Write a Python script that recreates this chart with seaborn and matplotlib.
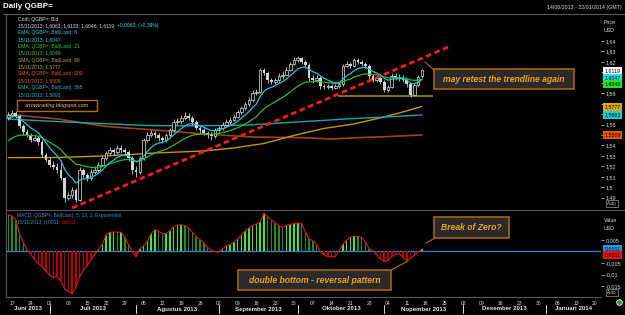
import numpy as np
import pandas as pd
import matplotlib
matplotlib.use("Agg")
import matplotlib.pyplot as plt
import matplotlib.transforms as mtrans
from matplotlib.patches import Rectangle
from matplotlib.lines import Line2D
import seaborn as sns

sns.set_theme(style="dark")
plt.rcParams['font.family'] = ['Liberation Sans', 'DejaVu Sans']

W, H = 625, 315

# Daily QGBP= bid candles, 14/06/2013 .. 15/11/2013 (one value per trading day)
closes = [1.5692, 1.5711, 1.5682, 1.5587, 1.5529, 1.5500, 1.5453, 1.5472, 1.5433, 1.5309,
          1.5261, 1.5213, 1.5194, 1.5166, 1.5089, 1.4898, 1.4926, 1.4974, 1.4878, 1.5166,
          1.5118, 1.5089, 1.5146, 1.5166, 1.5213, 1.5280, 1.5328, 1.5357, 1.5338, 1.5376,
          1.5357, 1.5338, 1.5280, 1.5166, 1.5146, 1.5280, 1.5453, 1.5500, 1.5520, 1.5500,
          1.5472, 1.5453, 1.5500, 1.5548, 1.5625, 1.5634, 1.5663, 1.5682, 1.5663, 1.5625,
          1.5567, 1.5548, 1.5520, 1.5500, 1.5491, 1.5548, 1.5567, 1.5596, 1.5625, 1.5644,
          1.5673, 1.5721, 1.5759, 1.5797, 1.5835, 1.5902, 1.5912, 1.6122, 1.6094, 1.6027,
          1.6008, 1.6027, 1.6065, 1.6075, 1.6122, 1.6180, 1.6218, 1.6237, 1.6199, 1.6170,
          1.6046, 1.6027, 1.6046, 1.5969, 1.5960, 1.5969, 1.5950, 1.5969, 1.5989, 1.6161,
          1.6180, 1.6161, 1.6218, 1.6199, 1.6180, 1.6161, 1.6065, 1.6027, 1.6046, 1.6008,
          1.5931, 1.5960, 1.6065, 1.6056, 1.6046, 1.6027, 1.5989, 1.5883, 1.5979, 1.6056,
          1.6119]
highs = [1.5725, 1.5740, 1.5730, 1.5700, 1.5610, 1.5560, 1.5520, 1.5500, 1.5490, 1.5450,
         1.5330, 1.5290, 1.5250, 1.5230, 1.5260, 1.5100, 1.4950, 1.5000, 1.4990, 1.5190,
         1.5180, 1.5140, 1.5170, 1.5200, 1.5240, 1.5300, 1.5350, 1.5390, 1.5380, 1.5400,
         1.5400, 1.5380, 1.5360, 1.5300, 1.5200, 1.5300, 1.5470, 1.5530, 1.5550, 1.5540,
         1.5520, 1.5490, 1.5520, 1.5570, 1.5650, 1.5660, 1.5690, 1.5720, 1.5710, 1.5680,
         1.5640, 1.5590, 1.5570, 1.5540, 1.5530, 1.5570, 1.5590, 1.5620, 1.5650, 1.5670,
         1.5700, 1.5740, 1.5780, 1.5820, 1.5860, 1.5930, 1.5940, 1.6140, 1.6140, 1.6110,
         1.6050, 1.6050, 1.6090, 1.6110, 1.6150, 1.6200, 1.6250, 1.6260, 1.6250, 1.6220,
         1.6190, 1.6070, 1.6070, 1.6060, 1.5990, 1.5990, 1.5990, 1.5990, 1.6010, 1.6180,
         1.6210, 1.6200, 1.6240, 1.6240, 1.6220, 1.6200, 1.6180, 1.6080, 1.6070, 1.6070,
         1.6030, 1.5980, 1.6090, 1.6090, 1.6080, 1.6070, 1.6040, 1.6000, 1.6000, 1.6070,
         1.6133]
lows = [1.5640, 1.5670, 1.5660, 1.5570, 1.5500, 1.5480, 1.5430, 1.5440, 1.5400, 1.5290,
        1.5240, 1.5190, 1.5170, 1.5140, 1.5070, 1.4860, 1.4880, 1.4900, 1.4855, 1.4870,
        1.5090, 1.5060, 1.5070, 1.5130, 1.5150, 1.5200, 1.5260, 1.5310, 1.5310, 1.5320,
        1.5330, 1.5300, 1.5250, 1.5130, 1.5100, 1.5130, 1.5260, 1.5430, 1.5480, 1.5470,
        1.5440, 1.5420, 1.5430, 1.5480, 1.5530, 1.5600, 1.5610, 1.5640, 1.5640, 1.5600,
        1.5550, 1.5520, 1.5500, 1.5470, 1.5450, 1.5470, 1.5530, 1.5550, 1.5580, 1.5610,
        1.5630, 1.5660, 1.5700, 1.5740, 1.5780, 1.5820, 1.5880, 1.5900, 1.6070, 1.6000,
        1.5990, 1.5990, 1.6010, 1.6040, 1.6060, 1.6110, 1.6170, 1.6200, 1.6180, 1.6140,
        1.6020, 1.6000, 1.6010, 1.5940, 1.5940, 1.5940, 1.5930, 1.5940, 1.5950, 1.5970,
        1.6150, 1.6140, 1.6150, 1.6180, 1.6160, 1.6140, 1.6040, 1.6010, 1.6010, 1.5990,
        1.5910, 1.5910, 1.5950, 1.6030, 1.6020, 1.6010, 1.5960, 1.5860, 1.5870, 1.5960,
        1.6046]
first_open = 1.5660
last_open = 1.6063

# moving averages
ema8_seed = 1.5660
ema21_seed = 1.5420
sma89_idx = [0, 13, 26, 39, 52, 60, 68, 76, 84, 92, 100, 105, 110]
sma89_val = [1.5283, 1.5285, 1.5300, 1.5328, 1.5347, 1.5376, 1.5419, 1.5496, 1.5563, 1.5606, 1.5673, 1.5721, 1.5773]
sma200_idx = [0, 13, 26, 39, 52, 65, 78, 86, 93, 100, 110]
sma200_val = [1.5697, 1.5654, 1.5582, 1.5548, 1.5510, 1.5481, 1.5475, 1.5462, 1.5475, 1.5484, 1.5500]
ema365_idx = [0, 10, 24, 37, 50, 64, 77, 90, 98, 110]
ema365_val = [1.5653, 1.5634, 1.5611, 1.5591, 1.5587, 1.5596, 1.5625, 1.5654, 1.5668, 1.5692]

# MACD (5, 13, 1) histogram
macd_hist = [0.0160, 0.0155, 0.0138, 0.0075, 0.0042, 0.0007, -0.0013, -0.0035, -0.0053, -0.0066,
             -0.0085, -0.0102, -0.0114, -0.0107, -0.0130, -0.0163, -0.0175, -0.0183, -0.0155, -0.0110,
             -0.0080, -0.0062, -0.0035, -0.0012, 0.0008, 0.0032, 0.0070, 0.0084, 0.0085, 0.0084,
             0.0084, 0.0062, 0.0030, -0.0002, -0.0022, 0.0012, 0.0025, 0.0045, 0.0078, 0.0095,
             0.0088, 0.0078, 0.0078, 0.0090, 0.0108, 0.0115, 0.0116, 0.0113, 0.0102, 0.0083,
             0.0065, 0.0052, 0.0038, 0.0018, 0.0005, 0.0000, -0.0004, 0.0012, 0.0025, 0.0030,
             0.0040, 0.0055, 0.0072, 0.0090, 0.0102, 0.0113, 0.0120, 0.0128, 0.0166, 0.0152,
             0.0137, 0.0125, 0.0112, 0.0105, 0.0114, 0.0118, 0.0122, 0.0124, 0.0122, 0.0086,
             0.0055, 0.0046, 0.0032, 0.0000, -0.0016, -0.0023, -0.0023, -0.0022, 0.0003, 0.0032,
             0.0050, 0.0063, 0.0067, 0.0066, 0.0062, 0.0042, 0.0012, 0.0002, -0.0015, -0.0033,
             -0.0044, -0.0039, -0.0022, -0.0011, -0.0010, -0.0025, -0.0039, -0.0030, -0.0016, -0.0003,
             0.0011]

# drawn lines
trend_idx = [17, 117.2]
trend_px = [1.4802, 1.6345]
support_idx = [87.7, 113.0]
support_px = 1.5877

month_names = ['Juni 2013', 'Juli 2013', 'Agustus 2013', 'September 2013',
               'Oktober 2013', 'Nopember 2013', 'Desember 2013', 'Januari 2014']

dates = pd.bdate_range('2013-06-14', '2014-01-22')
idx = np.arange(len(closes))
opens = [first_open] + closes[:-1]
opens[-1] = last_open
o, c, h, l = map(np.array, (opens, closes, highs, lows))

ema8 = pd.Series([ema8_seed] + closes).ewm(span=8, adjust=False).mean().iloc[1:].values
ema21 = pd.Series([ema21_seed] + closes).ewm(span=21, adjust=False).mean().iloc[1:].values


def fx(px):
    return px / W


def fy(py):
    return 1 - py / H


fig = plt.figure(figsize=(W / 100, H / 100), dpi=100, facecolor='black')
ax = fig.add_axes([fx(6), fy(209), fx(601) - fx(6), fy(14) - fy(209)])
axm = fig.add_axes([fx(6), fy(297), fx(601) - fx(6), fy(210) - fy(297)])
for a in (ax, axm):
    a.set_facecolor('black')
    for s in a.spines.values():
        s.set_visible(False)
    a.grid(False)

XL = (-0.6, 157.65)

# --- price panel ---
ema_cols = {'ema8': '#22c4d8', 'ema21': '#2fb82f', 'sma89': '#c8960c', 'sma200': '#a5420c', 'ema365': '#1aa6b0'}
sns.lineplot(x=sma200_idx, y=sma200_val, ax=ax, color=ema_cols['sma200'], lw=1.2, zorder=2)
sns.lineplot(x=sma89_idx, y=sma89_val, ax=ax, color=ema_cols['sma89'], lw=1.0, zorder=2)
sns.lineplot(x=ema365_idx, y=ema365_val, ax=ax, color=ema_cols['ema365'], lw=1.0, zorder=2)
ax.hlines(support_px, support_idx[0], support_idx[1], color='#8a7c12', lw=1.3, zorder=2)

up = c >= o
ax.vlines(idx, l, h, color='#d0d0d0', lw=0.6, zorder=3)
ax.bar(idx[up], np.maximum(c - o, 0.0003)[up], bottom=o[up], width=0.7,
       facecolor='black', edgecolor='#e4e4e4', lw=0.5, zorder=4)
ax.bar(idx[~up], np.maximum(o - c, 0.0003)[~up], bottom=c[~up], width=0.7,
       color='#d4d4d4', lw=0, zorder=4)

sns.lineplot(x=idx, y=ema21, ax=ax, color=ema_cols['ema21'], lw=0.9, zorder=5)
sns.lineplot(x=idx, y=ema8, ax=ax, color=ema_cols['ema8'], lw=0.9, zorder=5)
ax.plot(trend_idx, trend_px, color='#ff1a1a', lw=2.0, ls=(0, (2, 1.3)), zorder=6)

ax.set_xlim(*XL)
ax.set_ylim(1.4792, 1.6658)
ax.set_xticks([])
ax.yaxis.tick_right()
price_ticks = np.round(np.arange(1.49, 1.645, 0.01), 2)
hidden = {1.61, 1.60, 1.58, 1.57, 1.55}
ax.set_yticks(price_ticks)
ax.set_yticklabels(['' if p in hidden else ('%.2f' % p).rstrip('0').replace('.', ',') for p in price_ticks])
ax.tick_params(axis='y', colors='#dddddd', labelsize=3.9, length=2.5, width=0.5, pad=1)

# value tags on the right
ytr = ax.get_yaxis_transform()
tags = [(1.6116, '1,6119', 'white'), (1.6049, '1,6047', '#19e3e3'), (1.5986, '1,6046', '#29e029'),
        (1.5771, '1,5777', '#e0a810'), (1.5691, '1,5693', '#1ccfcf'), (1.5500, '1,5509', '#e8520a')]
for yv, txt, col in tags:
    ax.text(1.006, yv, txt, transform=ytr, fontsize=3.8, color='black', va='center', ha='left',
            bbox=dict(boxstyle='square,pad=0.25', fc=col, ec='none'), clip_on=False, zorder=10)

# --- MACD panel ---
m = np.array(macd_hist)
cols = []
for k, v in enumerate(m):
    if v < 0:
        cols.append('#c00000')
    elif k > 0 and v >= m[k - 1]:
        cols.append('#3ee63e')
    else:
        cols.append('#1c8f1c')
axm.bar(idx, m, width=0.4, color=cols, lw=0, zorder=2)
sns.lineplot(x=idx, y=m, ax=axm, color='#e01515', lw=0.8, zorder=3)
axm.axhline(0, color='#2f86c8', lw=0.9, zorder=1)
axm.set_xlim(*XL)
axm.set_ylim(-0.01978, 0.01804)
axm.yaxis.tick_right()
macd_ticks = [-0.015, -0.01, -0.005, 0.005]
axm.set_yticks(macd_ticks)
axm.set_yticklabels(['-0,015', '-0,01', '-0,005', '0,005'])
axm.tick_params(axis='y', colors='#dddddd', labelsize=3.9, length=2.5, width=0.5, pad=1)
ytm = axm.get_yaxis_transform()
axm.text(1.006, 0.0011, '0,0011', transform=ytm, fontsize=3.8, color='black', va='center',
         bbox=dict(boxstyle='square,pad=0.25', fc='#1e9be8', ec='none'), clip_on=False, zorder=10)
axm.text(1.006, -0.0016, '0,0011', transform=ytm, fontsize=3.8, color='black', va='center',
         bbox=dict(boxstyle='square,pad=0.25', fc='#ee1010', ec='none'), clip_on=False, zorder=10)

mondays = [k for k, d in enumerate(dates) if d.weekday() == 0]
axm.set_xticks(mondays)
axm.set_xticklabels(['%02d' % dates[k].day for k in mondays])
axm.tick_params(axis='x', colors='#dddddd', labelsize=3.6, length=2, width=0.5, pad=1.2)
for t in axm.get_xticklines():
    t.set_color('#aaaaaa')

# month labels with separators
bt = mtrans.blended_transform_factory(axm.transData, fig.transFigure)
starts = [0] + [k for k in range(1, len(dates)) if dates[k].month != dates[k - 1].month]
edges = [XL[0]] + starts[1:] + [XL[1]]
for name, a0, a1 in zip(month_names, edges[:-1], edges[1:]):
    fig.text((a0 + a1) / 2, fy(309), name, transform=bt, fontsize=4.4, fontweight='bold',
             color='#e8e8e8', ha='center', va='center')
for s in starts[1:]:
    fig.add_artist(Line2D([s, s], [fy(305), fy(313)], transform=bt, color='#dddddd', lw=0.7))

# frame lines
frame = '#5a5a5a'
fig.add_artist(Line2D([fx(3), fx(625)], [fy(13.5), fy(13.5)], color=frame, lw=0.8))
fig.add_artist(Line2D([fx(6), fx(6)], [fy(13.5), fy(297)], color=frame, lw=0.8))
fig.add_artist(Line2D([fx(6), fx(625)], [fy(209.5), fy(209.5)], color=frame, lw=0.8))
fig.add_artist(Line2D([fx(6), fx(601)], [fy(297), fy(297)], color=frame, lw=0.8))

# header texts
fig.text(fx(3), fy(7), 'Daily QGBP=', fontsize=5.8, fontweight='bold', color='white', va='center')
fig.text(fx(622), fy(7.5), '14/06/2013 - 22/01/2014 (GMT)', fontsize=3.8, color='#dddddd', ha='right', va='center')
fig.text(fx(604), fy(23), 'Price', fontsize=3.8, color='#dddddd', va='center')
fig.text(fx(604), fy(31), 'USD', fontsize=3.8, color='#dddddd', va='center')
fig.text(fx(604), fy(220.7), 'Value', fontsize=3.8, color='#dddddd', va='center')
fig.text(fx(604), fy(228), 'USD', fontsize=3.8, color='#dddddd', va='center')
for yy in (203.5, 292.5):
    fig.text(fx(612), fy(yy), 'Auto', fontsize=3.3, color='#cccccc', ha='center', va='center',
             bbox=dict(boxstyle='square,pad=0.2', fc='black', ec='#999999', lw=0.5))
fig.add_artist(Line2D([fx(619)], [fy(302)], marker='o', markersize=4, mfc='#1fa01f', mec='white', mew=0.6))


def two_tone(x, y, first, second, c1, c2, fs):
    # second part starts right after the measured end of the first part
    t1 = fig.text(fx(x), fy(y), first, fontsize=fs, color=c1, va='center')
    fig.canvas.draw()
    ext = t1.get_window_extent()
    fig.text(ext.x1 / W + fx(1.5), fy(y), second, fontsize=fs, color=c2, va='center')


# legend block of the price panel
LFS = 3.6
legend_lines = [
    ('Cndl; QGBP=; Bid', '#d8d8d8'),
    None,
    ('EMA; QGBP=; Bid(Last); 8', '#2cc8dc'),
    ('15/11/2013; 1,6047', '#2cc8dc'),
    ('EMA; QGBP=; Bid(Last); 21', '#35c835'),
    ('15/11/2013; 1,6046', '#35c835'),
    ('SMA; QGBP=; Bid(Last); 89', '#c8a020'),
    ('15/11/2013; 1,5777', '#c8a020'),
    ('SMA; QGBP=; Bid(Last); 200', '#e0601a'),
    ('15/11/2013; 1,5509', '#e0601a'),
    ('EMA; QGBP=; Bid(Last); 365', '#22b8c0'),
    ('15/11/2013; 1,5693', '#22b8c0'),
]
for k, item in enumerate(legend_lines):
    if item is None:
        continue
    fig.text(fx(18), fy(19 + 6.85 * k), item[0], fontsize=LFS, color=item[1], va='center')
two_tone(18, 19 + 6.85, '15/11/2013; 1,6063; 1,6133; 1,6046; 1,6119;', '+0,0063; (+0,39%)',
         '#d8d8d8', '#33dddd', LFS)
fig.text(fx(17), fy(215), 'MACD; QGBP=; Bid(Last); 5; 13; 1; Exponential', fontsize=3.5,
         color='#3a90d0', va='center')
two_tone(17, 222, '15/11/2013; 0,0011;', '0,0011', '#3a90d0', '#e01010', 3.5)

# blog tag
fig.add_artist(Rectangle((fx(17), fy(110.5)), fx(97) - fx(17), fy(100) - fy(110.5),
                         fc='black', ec='#b8690a', lw=1.0))
fig.text(fx(57), fy(105.3), 'arrowtrading.blogspot.com', fontsize=4.0, fontstyle='italic',
         color='#f0c060', ha='center', va='center')

# callouts
box_edge = '#a8640c'


def callout(x0, y0, x1, y1, text, line):
    fig.add_artist(Rectangle((fx(x0), fy(y1)), fx(x1) - fx(x0), fy(y0) - fy(y1),
                             fc='#2a2a2a', ec=box_edge, lw=1.2))
    fig.text(fx((x0 + x1) / 2), fy((y0 + y1) / 2 + 0.5), text, fontsize=6.2, fontweight='bold',
             fontstyle='italic', color='#f0a018', ha='center', va='center')
    fig.add_artist(Line2D([fx(line[0]), fx(line[2])], [fy(line[1]), fy(line[3])], color=box_edge, lw=0.9))


callout(434, 69, 574, 89, 'may retest the trendline again', (425, 62, 434, 70))
callout(434, 217, 509, 238, 'Break of Zero?', (426, 243, 435, 238))
callout(238, 270, 391, 290, 'double bottom - reversal pattern', (391, 270, 408, 261))

fig.savefig('out.png', dpi=100, facecolor='black')
